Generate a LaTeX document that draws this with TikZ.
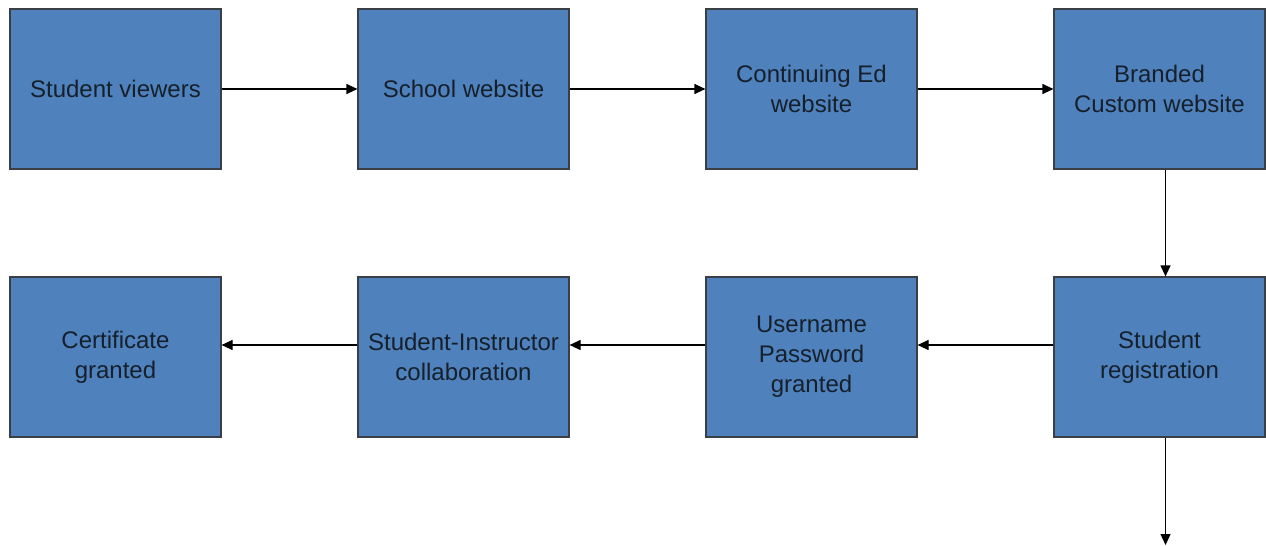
\documentclass[tikz,border=0pt]{standalone}
\usepackage{fontspec}
\setmainfont{Liberation Sans}
\usetikzlibrary{arrows.meta}
\definecolor{boxfill}{HTML}{4F81BD}
\definecolor{boxline}{HTML}{3A3F45}
\definecolor{txt}{HTML}{15202B}
\tikzset{
  stepbox/.style={draw=boxline, line width=1.2pt, fill=boxfill, minimum width=211pt, minimum height=160pt,
    inner sep=0pt, align=center, text=txt, font=\fontsize{24}{30}\selectfont},
  arr/.style={draw=black, line width=1.2pt, -{Triangle[length=11pt,width=10pt]}}
}
\begin{document}
\begin{tikzpicture}[x=1pt,y=1pt]
\useasboundingbox (0,0) rectangle (1266,-546);
\node[stepbox] (b1) at (115.5,-89) {Student viewers};
\node[stepbox] (b2) at (463.5,-89) {School website};
\node[stepbox] (b3) at (811.5,-89) {Continuing Ed\\website};
\node[stepbox] (b4) at (1159.5,-89) {Branded\\Custom website};
\node[stepbox] (b5) at (1159.5,-357) {Student\\registration};
\node[stepbox] (b6) at (811.5,-357) {Username\\Password\\granted};
\node[stepbox] (b7) at (463.5,-357) {Student-Instructor\\collaboration};
\node[stepbox] (b8) at (115.5,-357) {Certificate\\granted};
\coordinate (end) at (1165.5,-545);
\draw[arr] (b1) -- (b2);
\draw[arr] (b2) -- (b3);
\draw[arr] (b3) -- (b4);
\draw[arr] ([xshift=6pt]b4.south) -- ([xshift=6pt]b5.north);
\draw[arr] ([yshift=12pt]b5.west) -- ([yshift=12pt]b6.east);
\draw[arr] ([yshift=12pt]b6.west) -- ([yshift=12pt]b7.east);
\draw[arr] ([yshift=12pt]b7.west) -- ([yshift=12pt]b8.east);
\draw[arr] ([xshift=6pt]b5.south) -- (end);
\end{tikzpicture}
\end{document}
